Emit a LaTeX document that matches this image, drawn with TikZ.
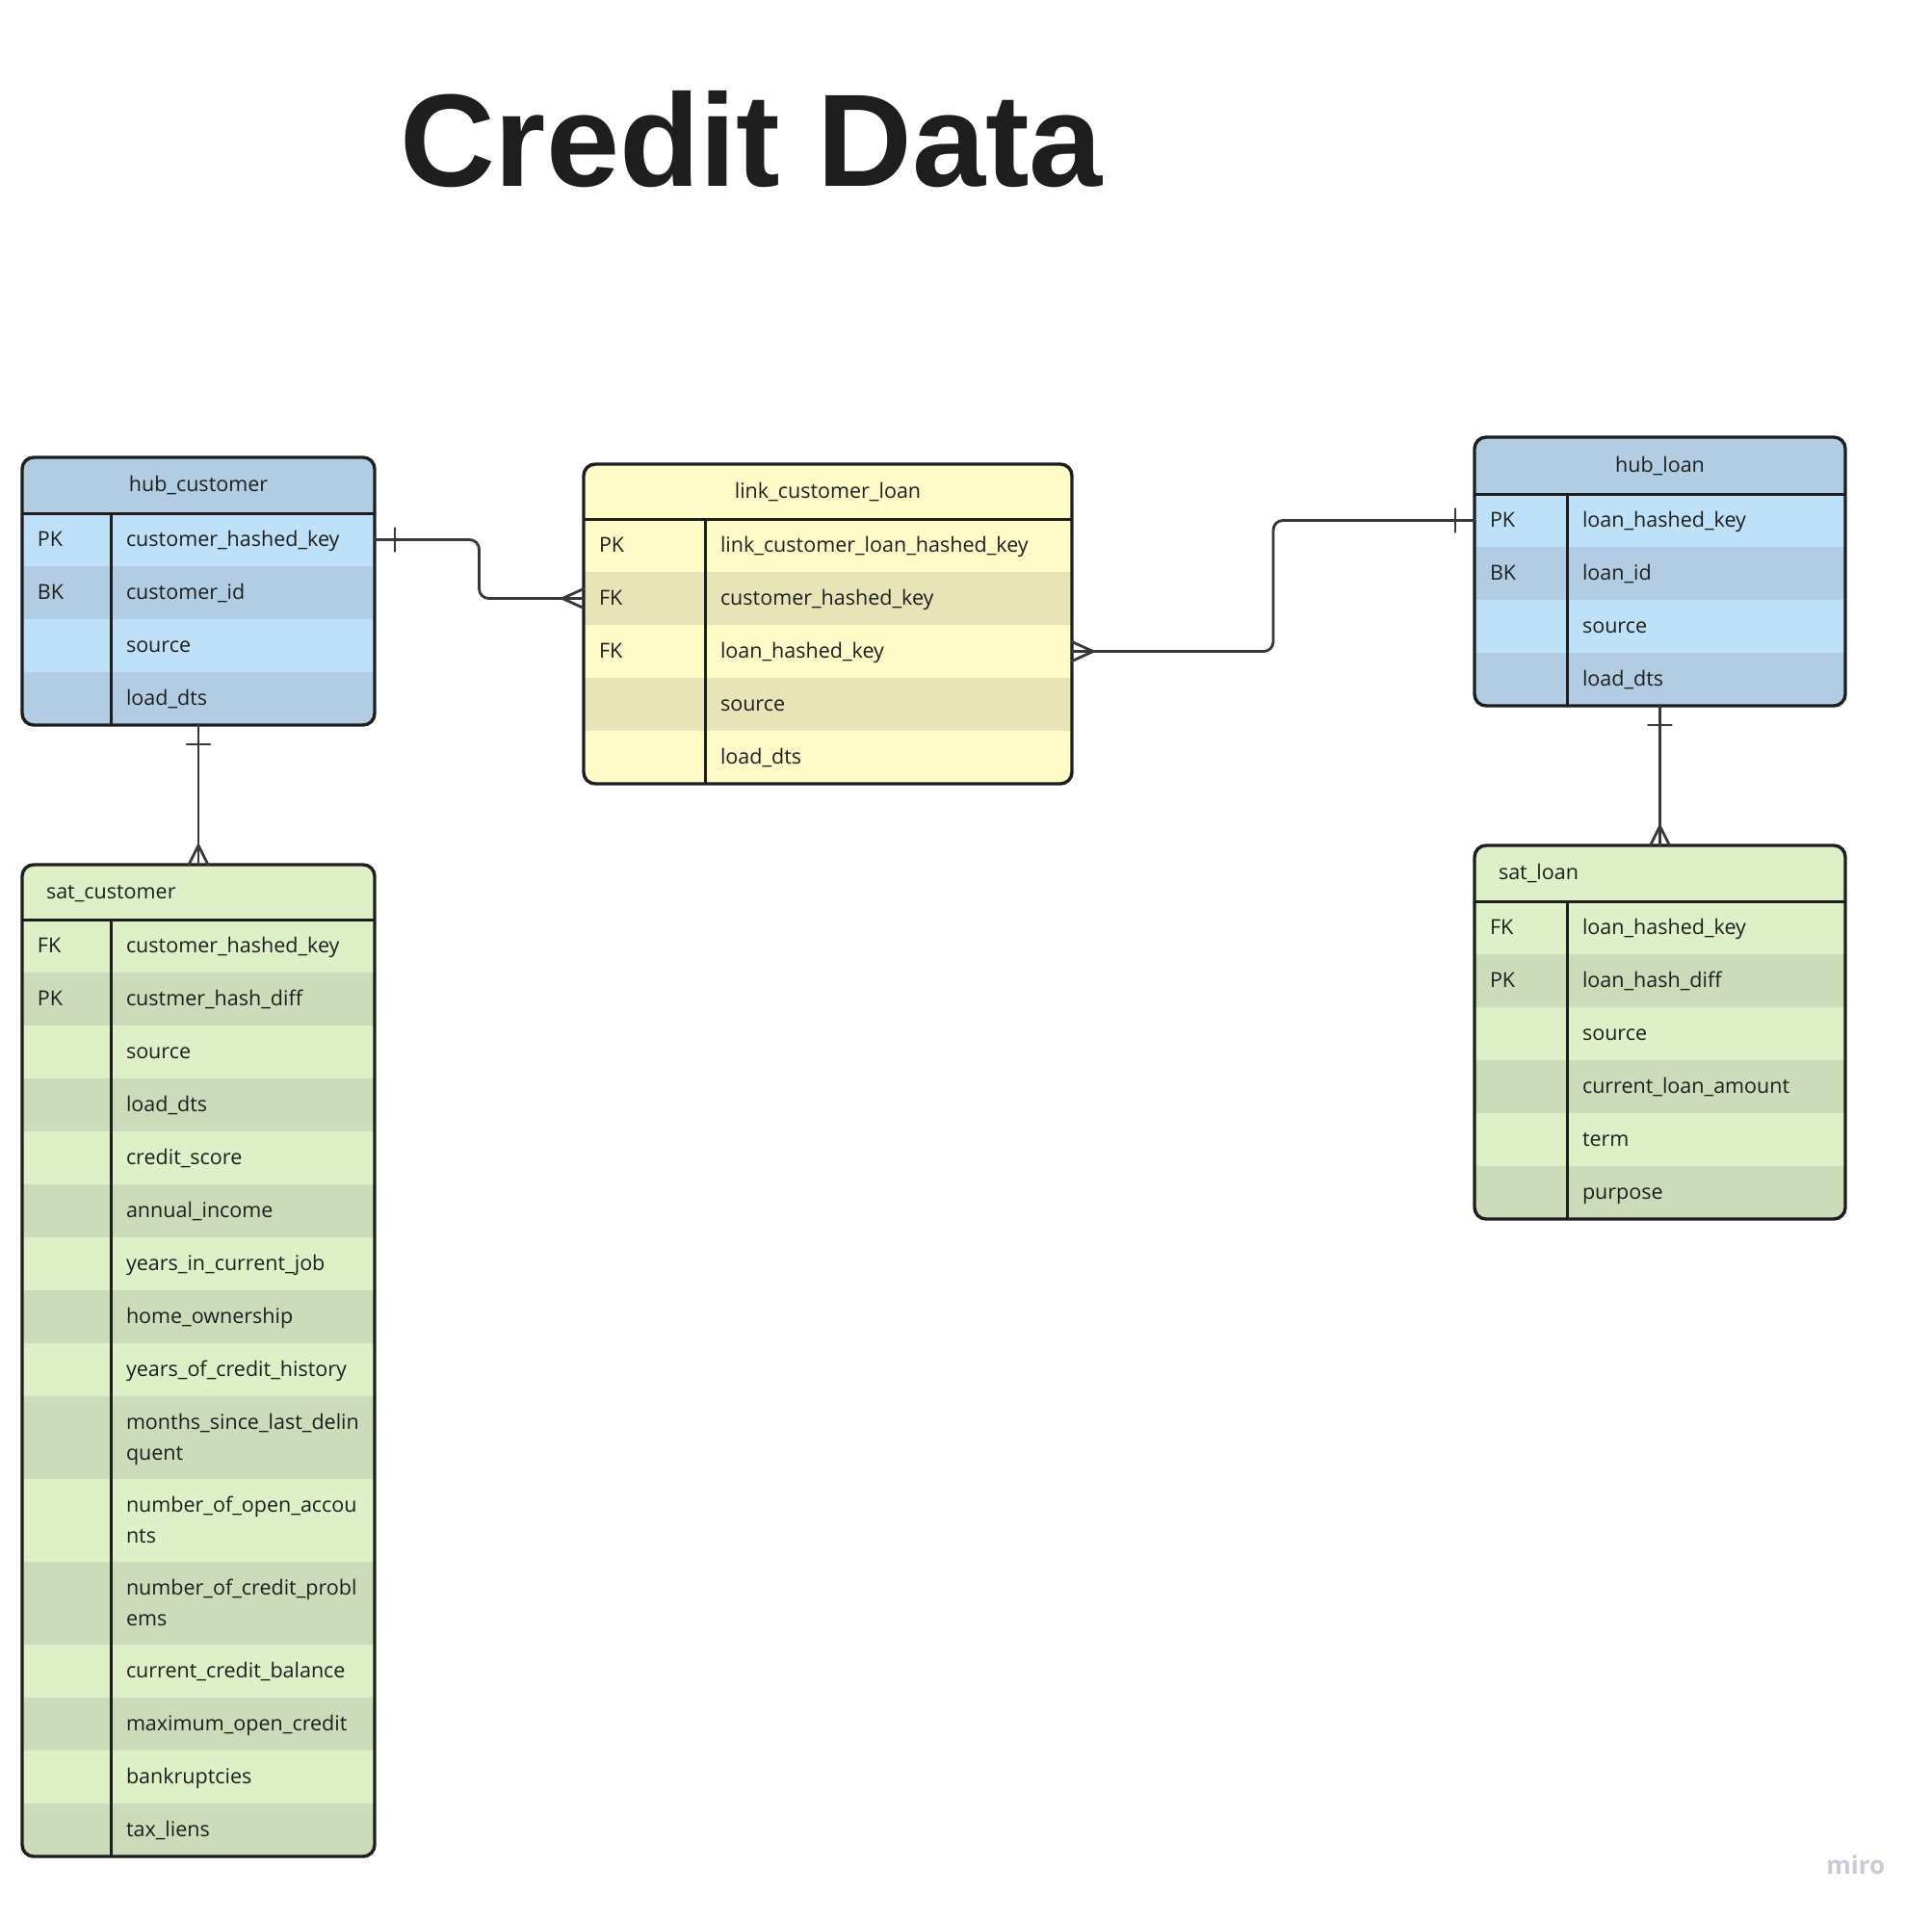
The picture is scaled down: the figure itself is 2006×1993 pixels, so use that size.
\documentclass[tikz,border=0pt]{standalone}
\usepackage{fontspec}
\setmainfont{Open Sans}
\newfontfamily\titlefont{Liberation Sans}
\usetikzlibrary{calc}
\newcommand\pxu{0.5pt}
\definecolor{ink}{HTML}{1E1E1E}
\definecolor{connc}{HTML}{383838}
\definecolor{bluedk}{HTML}{B2CDE3}
\definecolor{bluelt}{HTML}{BEE0F8}
\definecolor{yellt}{HTML}{FFFBC8}
\definecolor{yeldk}{HTML}{E8E4B7}
\definecolor{grnlt}{HTML}{DEF0C8}
\definecolor{grndk}{HTML}{CCDBB9}
\definecolor{mirogray}{HTML}{CBCBD6}
\tikzset{
  rowbox/.style={draw=none, inner sep=0pt, outer sep=0pt, rectangle},
  celltext/.style={anchor=base west, inner sep=0pt, outer sep=0pt, text=ink,
    font=\fontsize{10.75pt}{16pt}\selectfont},
  hdrtext/.style={celltext, anchor=base},
  tabframe/.style={draw=ink, line width=1.7pt, rounded corners=6pt, inner sep=0pt, outer sep=0pt},
  tabrule/.style={draw=ink, line width=1.5pt},
  conn/.style={draw=connc, line width=1.4pt, line cap=round, line join=round},
}
% table parameters: name L R T Hb B Div
\newcommand\settab[7]{\def\tN{#1}\def\tL{#2}\def\tR{#3}\def\tT{#4}\def\tH{#5}\def\tB{#6}\def\tD{#7}}
% header: fill, text, center/left
\newcommand\ehdr[3]{%
  \node[rowbox, fill=#1, minimum width={(\tR-\tL)*\pxu}, minimum height={(\tH-\tT)*\pxu}]
    (\tN-h) at ({(\tL+\tR)/2},{(\tT+\tH)/2}) {};
  \ifx#3c
    \node[hdrtext] (\tN-t) at ({(\tL+\tR)/2},{(\tT+\tH)/2+6.5}) {#2};
  \else
    \node[celltext] (\tN-t) at ({\tL+25},{(\tT+\tH)/2+6.5}) {#2};
  \fi}
% row: name, top, bottom, fill, key, field
\newcommand\erow[6]{%
  \node[rowbox, fill=#4, minimum width={(\tR-\tL)*\pxu}, minimum height={(#3-#2)*\pxu}]
    (#1) at ({(\tL+\tR)/2},{(#2+#3)/2}) {};
  \if\relax\detokenize{#5}\relax\else
    \node[celltext] (#1-k) at ({\tL+16},{(#2+#3)/2+6.5}) {#5};\fi
  \node[celltext] (#1-f) at ({\tD+16},{(#2+#3)/2+6.5}) {#6};}
% two-line row: name, top, bottom, fill, line1, line2
\newcommand\erowtwo[6]{%
  \node[rowbox, fill=#4, minimum width={(\tR-\tL)*\pxu}, minimum height={(#3-#2)*\pxu}]
    (#1) at ({(\tL+\tR)/2},{(#2+#3)/2}) {};
  \node[celltext] (#1-f) at ({\tD+16},{(#2+#3)/2-9}) {#5};
  \node[celltext] (#1-g) at ({\tD+16},{(#2+#3)/2+23}) {#6};}
\newcommand\eframe{%
  \draw[tabrule] (\tL,\tH) -- (\tR,\tH);
  \draw[tabrule] (\tD,\tH) -- (\tD,\tB);
  \node[tabframe, minimum width={(\tR-\tL)*\pxu}, minimum height={(\tB-\tT)*\pxu}]
    (\tN) at ({(\tL+\tR)/2},{(\tT+\tB)/2}) {};}
\newcommand\eclip{\clip[rounded corners=6pt] (\tL,\tT) rectangle (\tR,\tB);}
\begin{document}
\begin{tikzpicture}[x=0.5pt,y=-0.5pt]
\useasboundingbox (0,0) rectangle (2006,1993);
\fill[white] (0,0) rectangle (2006,1993);

\node[font=\titlefont\bfseries\fontsize{68.4pt}{80pt}\selectfont, text=ink, anchor=base, inner sep=0pt]
  (title) at (780,193) {Credit Data};

% hub_customer
\settab{hubc}{23}{389}{475}{533}{753}{115}
\begin{scope}
\eclip
\ehdr{bluedk}{hub\_customer}{c}
\erow{hubc-1}{533}{588}{bluelt}{PK}{customer\_hashed\_key}
\erow{hubc-2}{588}{643}{bluedk}{BK}{customer\_id}
\erow{hubc-3}{643}{698}{bluelt}{}{source}
\erow{hubc-4}{698}{753}{bluedk}{}{load\_dts}
\end{scope}
\eframe

% link_customer_loan
\settab{link}{606}{1113}{482}{539}{814}{732}
\begin{scope}
\eclip
\ehdr{yellt}{link\_customer\_loan}{c}
\erow{link-1}{539}{594}{yellt}{PK}{link\_customer\_loan\_hashed\_key}
\erow{link-2}{594}{649}{yeldk}{FK}{customer\_hashed\_key}
\erow{link-3}{649}{704}{yellt}{FK}{loan\_hashed\_key}
\erow{link-4}{704}{759}{yeldk}{}{source}
\erow{link-5}{759}{814}{yellt}{}{load\_dts}
\end{scope}
\eframe

% hub_loan
\settab{hubl}{1531}{1916}{454}{513}{733}{1627}
\begin{scope}
\eclip
\ehdr{bluedk}{hub\_loan}{c}
\erow{hubl-1}{513}{568}{bluelt}{PK}{loan\_hashed\_key}
\erow{hubl-2}{568}{623}{bluedk}{BK}{loan\_id}
\erow{hubl-3}{623}{678}{bluelt}{}{source}
\erow{hubl-4}{678}{733}{bluedk}{}{load\_dts}
\end{scope}
\eframe

% sat_loan
\settab{satl}{1531}{1916}{878}{936}{1266}{1627}
\begin{scope}
\eclip
\ehdr{grnlt}{sat\_loan}{l}
\erow{satl-1}{936}{991}{grnlt}{FK}{loan\_hashed\_key}
\erow{satl-2}{991}{1046}{grndk}{PK}{loan\_hash\_diff}
\erow{satl-3}{1046}{1101}{grnlt}{}{source}
\erow{satl-4}{1101}{1156}{grndk}{}{current\_loan\_amount}
\erow{satl-5}{1156}{1211}{grnlt}{}{term}
\erow{satl-6}{1211}{1266}{grndk}{}{purpose}
\end{scope}
\eframe

% sat_customer
\settab{satc}{23}{389}{898}{955}{1928}{115}
\begin{scope}
\eclip
\ehdr{grnlt}{sat\_customer}{l}
\erow{satc-1}{955}{1010}{grnlt}{FK}{customer\_hashed\_key}
\erow{satc-2}{1010}{1065}{grndk}{PK}{custmer\_hash\_diff}
\erow{satc-3}{1065}{1120}{grnlt}{}{source}
\erow{satc-4}{1120}{1175}{grndk}{}{load\_dts}
\erow{satc-5}{1175}{1230}{grnlt}{}{credit\_score}
\erow{satc-6}{1230}{1285}{grndk}{}{annual\_income}
\erow{satc-7}{1285}{1340}{grnlt}{}{years\_in\_current\_job}
\erow{satc-8}{1340}{1395}{grndk}{}{home\_ownership}
\erow{satc-9}{1395}{1450}{grnlt}{}{years\_of\_credit\_history}
\erowtwo{satc-10}{1450}{1536}{grndk}{months\_since\_last\_delin}{quent}
\erowtwo{satc-11}{1536}{1622}{grnlt}{number\_of\_open\_accou}{nts}
\erowtwo{satc-12}{1622}{1708}{grndk}{number\_of\_credit\_probl}{ems}
\erow{satc-13}{1708}{1763}{grnlt}{}{current\_credit\_balance}
\erow{satc-14}{1763}{1818}{grndk}{}{maximum\_open\_credit}
\erow{satc-15}{1818}{1873}{grnlt}{}{bankruptcies}
\erow{satc-16}{1873}{1928}{grndk}{}{tax\_liens}
\end{scope}
\eframe

% connectors
\draw[conn, rounded corners=5pt] (hubc-1.east) -| ($(hubc-1.east)!0.5!(link-2.west)$) |- (link-2.west);
\draw[conn] ($(hubc-1.east)+(21,-12)$) -- ($(hubc-1.east)+(21,12)$);
\draw[conn] ($(link-2.west)+(0,-10)$) -- ($(link-2.west)+(-22,0)$) -- ($(link-2.west)+(0,10)$);

\draw[conn, rounded corners=5pt] (link-3.east) -| ($(link-3.east)!0.5!(hubl-1.west)$) |- (hubl-1.west);
\draw[conn] ($(link-3.east)+(0,-10)$) -- ($(link-3.east)+(22,0)$) -- ($(link-3.east)+(0,10)$);
\draw[conn] ($(hubl-1.west)+(-20,-12)$) -- ($(hubl-1.west)+(-20,12)$);

\draw[conn] (hubc.south) -- (satc.north);
\draw[conn] ($(hubc.south)+(-12,20)$) -- ($(hubc.south)+(12,20)$);
\draw[conn] ($(satc.north)+(-10,0)$) -- ($(satc.north)+(0,-20)$) -- ($(satc.north)+(10,0)$);

\draw[conn] (hubl.south) -- (satl.north);
\draw[conn] ($(hubl.south)+(-12,20)$) -- ($(hubl.south)+(12,20)$);
\draw[conn] ($(satl.north)+(-10,0)$) -- ($(satl.north)+(0,-20)$) -- ($(satl.north)+(10,0)$);

\node[font=\bfseries\fontsize{13pt}{15pt}\selectfont, text=mirogray, anchor=base west, inner sep=0pt]
  (miro) at (1896,1946) {miro};
\end{tikzpicture}
\end{document}
